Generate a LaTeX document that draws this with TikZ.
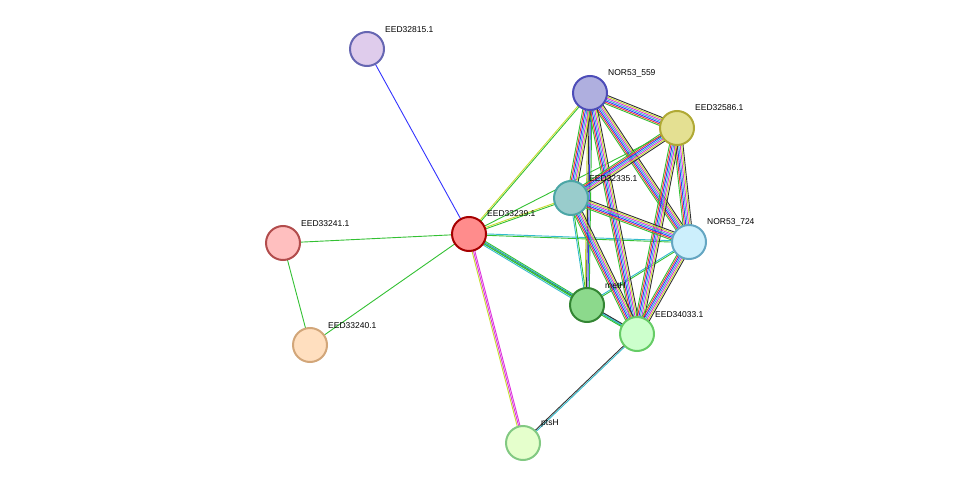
\documentclass[tikz,border=0pt]{standalone}
\usepackage{fontspec}
\setmainfont{Liberation Sans}
\usetikzlibrary{calc}
\definecolor{qg}{HTML}{33C033}
\definecolor{qb}{HTML}{3333FF}
\definecolor{qm}{HTML}{DD33DD}
\definecolor{qy}{HTML}{C8DC30}
\definecolor{qc}{HTML}{33BBCC}
\definecolor{qr}{HTML}{EE3333}
\definecolor{qk}{HTML}{333333}
\newcommand\medge[4]{%
 \foreach \c [count=\i] in {#3} {%
  \pgfmathsetmacro\off{(\i-(#4+1)/2)*1.4}
  \draw[draw=\c,line width=0.9pt] ($(#1)!\off pt!90:(#2)$) -- ($(#2)!\off pt!-90:(#1)$);}}
\tikzset{nd/.style={circle,minimum size=34pt,line width=2pt,inner sep=0},
 lb/.style={font=\fontsize{8.5pt}{10pt}\selectfont,anchor=south west,inner sep=1pt}}
\begin{document}
\begin{tikzpicture}[x=1pt,y=-1pt]
\useasboundingbox (0,0) rectangle (976,489);
\coordinate (a) at (367,49);
\coordinate (b) at (590,93);
\coordinate (c) at (677,128);
\coordinate (d) at (571,198);
\coordinate (e) at (469,234);
\coordinate (f) at (283,243);
\coordinate (g) at (689,242);
\coordinate (h) at (587,305);
\coordinate (i) at (637,334);
\coordinate (j) at (310,345);
\coordinate (k) at (523,443);
\medge{e}{a}{qb}{1}
\medge{e}{f}{qg}{1}
\medge{e}{j}{qg}{1}
\medge{f}{j}{qg}{1}
\medge{e}{k}{qy,qm,qm}{3}
\medge{e}{h}{qc,qg,qk,qg}{4}
\medge{e}{b}{qg,qy}{2}
\medge{e}{d}{qg,qy}{2}
\medge{e}{g}{qg,qc}{2}
\medge{e}{c}{qg}{1}
\medge{e}{i}{qg,qc}{2}
\medge{k}{i}{qc,qk}{2}
\medge{h}{g}{qg,qc}{2}
\medge{h}{i}{qg,qc,qk}{3}
\medge{h}{d}{qg,qc}{2}
\medge{h}{b}{qg,qb,qk,qy}{4}
\foreach \p/\q in {b/c,b/d,b/g,b/i,c/d,c/g,c/i,d/g,d/i,g/i}{\medge{\p}{\q}{qg,qr,qb,qc,qm,qy,qk}{7}}
\node[nd,draw=black!50!blue!60,fill=blue!25!violet!20] (A) at (a) {};
\node[nd,draw=blue!60!black!70,fill=blue!50!white!75!black!50] (B) at (b) {};
\node[nd,draw=olive!70,fill=yellow!60!gray!60] (C) at (c) {};
\node[nd,draw=teal!70,fill=teal!40] (D) at (d) {};
\node[nd,draw=red!65!black,fill=red!45] (E) at (e) {};
\node[nd,draw=red!40!gray,fill=red!25] (F) at (f) {};
\node[nd,draw=cyan!50!gray,fill=cyan!20] (G) at (g) {};
\node[nd,draw=green!40!black!80,fill=green!50!gray!60] (H) at (h) {};
\node[nd,draw=green!50!gray!80,fill=green!20] (I) at (i) {};
\node[nd,draw=brown!70,fill=orange!25] (J) at (j) {};
\node[nd,draw=green!40!gray!70,fill=green!50!yellow!20] (K) at (k) {};
\node[lb] at (384,34) {EED32815.1};
\node[lb] at (607,78) {NOR53\_559};
\node[lb] at (694,112) {EED32586.1};
\node[lb] at (588,183) {EED32335.1};
\node[lb] at (486,218) {EED33239.1};
\node[lb] at (300,228) {EED33241.1};
\node[lb] at (706,227) {NOR53\_724};
\node[lb] at (604,290) {metH};
\node[lb] at (654,319) {EED34033.1};
\node[lb] at (327,330) {EED33240.1};
\node[lb] at (540,428) {ptsH};
\end{tikzpicture}
\end{document}
